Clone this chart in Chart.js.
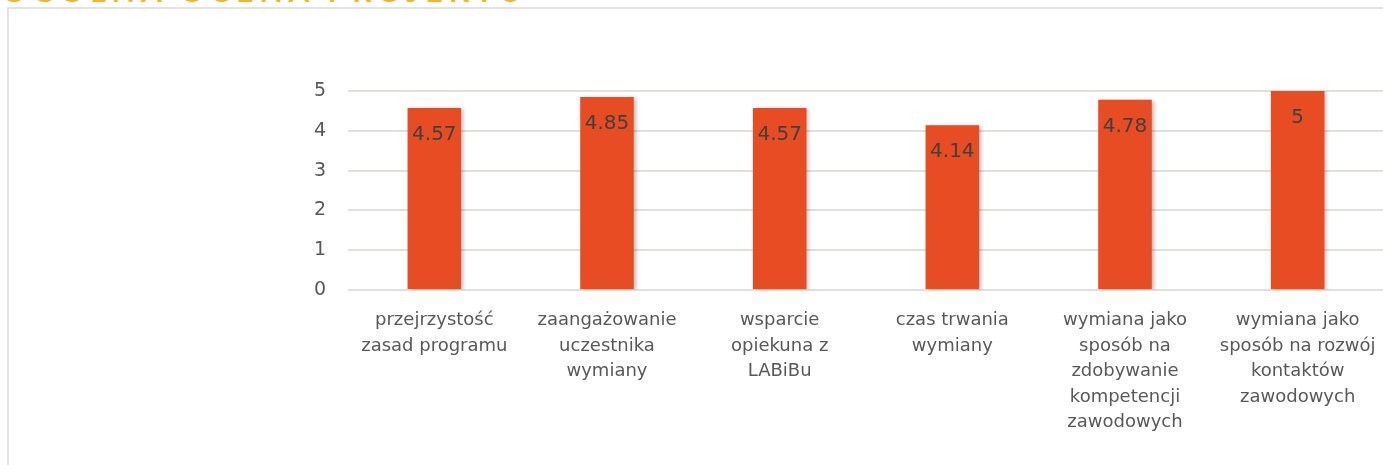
<!DOCTYPE html>
<html>
<head>
<meta charset="utf-8">
<script src="https://cdn.jsdelivr.net/npm/chart.js"></script>
<style>
  html, body { margin: 0; padding: 0; background: #fff; overflow: hidden; }
  #wrap { position: relative; width: 1383px; height: 465px; overflow: hidden; }
  #title {
    position: absolute; left: 2px; top: -25px; margin: 0;
    font: bold 30px Lato, sans-serif; line-height: 30px;
    letter-spacing: 6px; color: #f6b229; white-space: nowrap;
  }
  #frame {
    position: absolute; left: 7px; top: 7px; width: 1500px; height: 600px;
    border-left: 2px solid #e3e3df; border-top: 2px solid #e3e3df;
  }
  #chart { position: absolute; left: 0; top: 0; }
</style>
</head>
<body>
<div id="wrap">
  <div id="title">OGÓLNA OCENA PROJEKTU</div>
  <div id="frame"></div>
  <canvas id="chart" width="1400" height="465"></canvas>
</div>
<script>
var categories = [
  ['przejrzystość', 'zasad programu'],
  ['zaangażowanie', 'uczestnika', 'wymiany'],
  ['wsparcie', 'opiekuna z', 'LABiBu'],
  ['czas trwania', 'wymiany'],
  ['wymiana jako', 'sposób na', 'zdobywanie', 'kompetencji', 'zawodowych'],
  ['wymiana jako', 'sposób na rozwój', 'kontaktów', 'zawodowych']
];
var ratings = [4.57, 4.85, 4.57, 4.14, 4.78, 5];
var yTicks = [0, 1, 2, 3, 4, 5];

var fontFamily = "'DejaVu Sans', sans-serif";

// cień pod słupkami
var barShadow = {
  id: 'barShadow',
  beforeDatasetsDraw: function (chart) {
    var ctx = chart.ctx;
    ctx.save();
    ctx.shadowColor = 'rgba(0,0,0,0.28)';
    ctx.shadowBlur = 4;
    ctx.shadowOffsetX = 2;
    ctx.shadowOffsetY = 1;
  },
  afterDatasetsDraw: function (chart) {
    chart.ctx.restore();
  }
};

// etykiety wartości wewnątrz słupka
var valueLabels = {
  id: 'valueLabels',
  afterDatasetsDraw: function (chart) {
    var ctx = chart.ctx;
    var meta = chart.getDatasetMeta(0);
    ctx.save();
    ctx.fillStyle = '#404040';
    ctx.font = '20px ' + fontFamily;
    ctx.textAlign = 'center';
    ctx.textBaseline = 'middle';
    meta.data.forEach(function (bar, i) {
      ctx.fillText(String(ratings[i]), bar.x, bar.y + 27);
    });
    ctx.restore();
  }
};

var ctx = document.getElementById('chart');
var myChart = new Chart(ctx, {
  type: 'bar',
  data: {
    labels: categories,
    datasets: [{
      data: ratings,
      backgroundColor: '#e84c22',
      borderWidth: 0,
      categoryPercentage: 1,
      barPercentage: 0.31
    }]
  },
  options: {
    responsive: false,
    animation: false,
    layout: { padding: { top: 91, right: 16, left: 0, bottom: 0 } },
    plugins: {
      legend: { display: false },
      tooltip: { enabled: false }
    },
    scales: {
      x: {
        grid: { display: false },
        border: { display: false },
        ticks: {
          color: '#595959',
          font: { size: 18, family: fontFamily, lineHeight: '25.5px' },
          padding: 10,
          maxRotation: 0,
          autoSkip: false
        },
        afterFit: function (scale) { scale.height = 175; }
      },
      y: {
        min: 0,
        max: 5,
        afterBuildTicks: function (scale) {
          scale.ticks = yTicks.map(function (v) { return { value: v }; });
        },
        grid: { color: '#e1e1dc', lineWidth: 2, drawTicks: false },
        border: { display: false },
        ticks: {
          color: '#595959',
          font: { size: 19, family: fontFamily },
          padding: 22
        },
        afterFit: function (scale) { scale.width = 348; }
      }
    }
  },
  plugins: [barShadow, valueLabels]
});
</script>
</body>
</html>
